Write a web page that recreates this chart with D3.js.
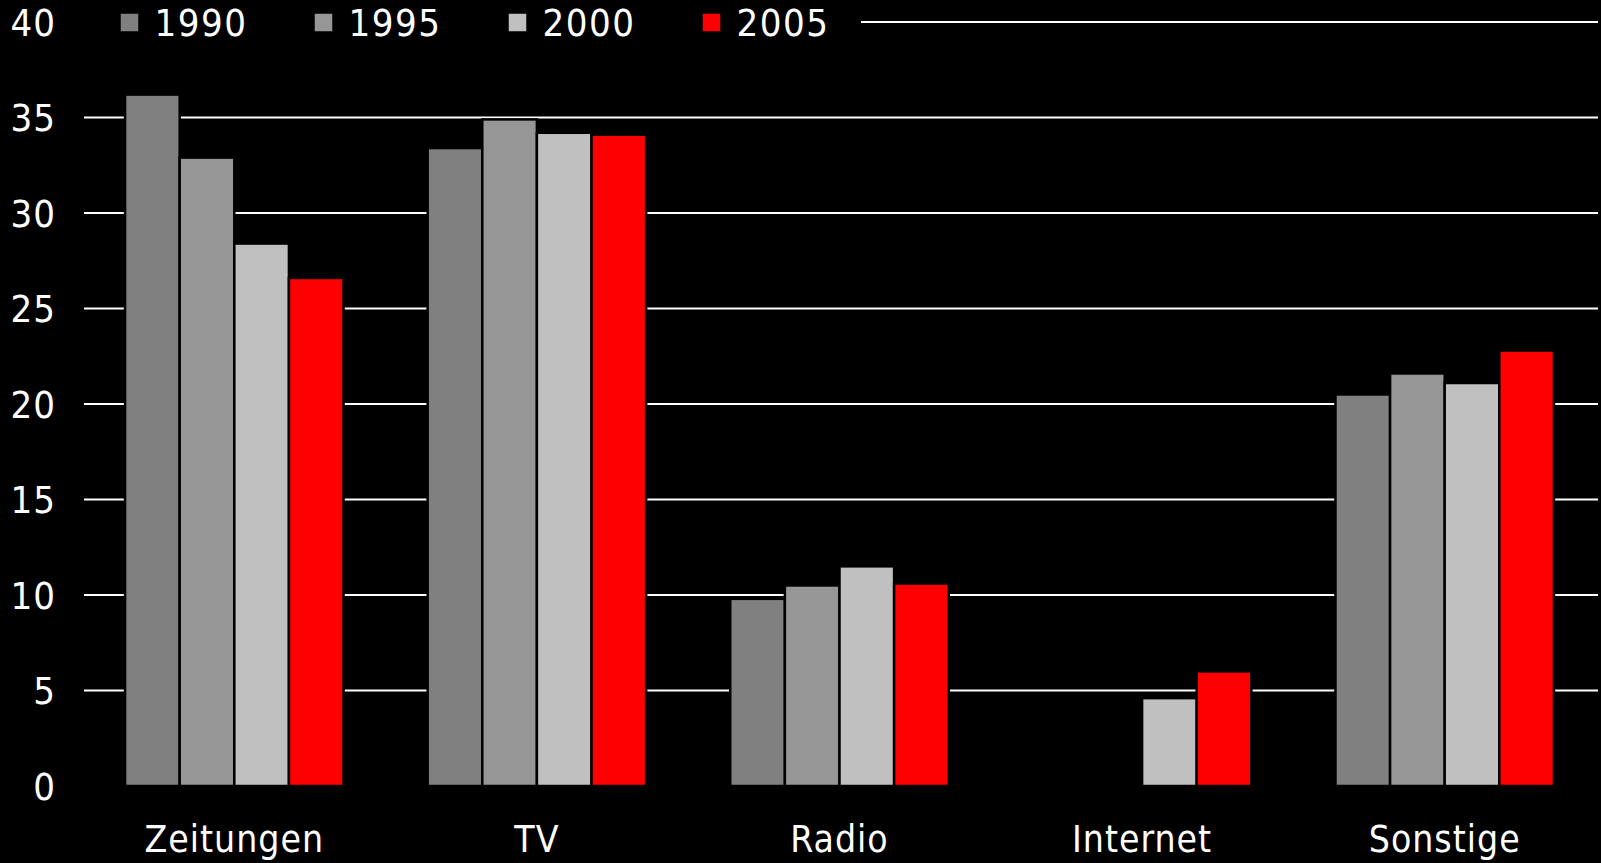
<!DOCTYPE html>
<html><head><meta charset="utf-8">
<script src="https://cdn.jsdelivr.net/npm/d3@7"></script>
<style>
html,body{margin:0;padding:0;background:#000;}
svg{display:block;}
text{font-family:"Liberation Sans Narrow","DejaVu Sans Condensed","Liberation Sans",sans-serif;fill:#fff;}
</style></head>
<body>
<script>
const categories = ["Zeitungen","TV","Radio","Internet","Sonstige"];
const years = ["1990","1995","2000","2005"];
const v1990 = [36.2, 33.4, 9.8, 0, 20.5];
const v1995 = [32.9, 34.9, 10.5, 0, 21.6];
const v2000 = [28.4, 34.2, 11.5, 4.6, 21.1];
const v2005 = [26.6, 34.1, 10.6, 6.0, 22.8];
const yTicks = [0,5,10,15,20,25,30,35,40];
const colors = ["#808080","#969696","#c0c0c0","#ff0000"];

const seriesVals = [v1990, v1995, v2000, v2005];
const W = 1601, H = 863;
const svg = d3.select("body").append("svg").attr("width", W).attr("height", H);
svg.append("rect").attr("width", W).attr("height", H).attr("fill", "#000");

const x0 = d3.scaleBand().domain(categories).range([83, 1596]).paddingInner(0.278).paddingOuter(0.139);
const x1 = d3.scaleBand().domain(years).range([0, x0.bandwidth()]).padding(0);
const y = d3.scaleLinear().domain([0, 40]).range([786, 22]);

// gridlines
svg.append("g").selectAll("line").data(yTicks.filter(t => t > 0)).join("line")
  .attr("x1", 84).attr("x2", 1598)
  .attr("y1", d => y(d)).attr("y2", d => y(d))
  .attr("stroke", "#fff").attr("stroke-width", 2);

// tick labels
svg.append("g").selectAll("text").data(yTicks).join("text")
  .attr("x", 56).attr("y", d => y(d)).attr("dy", "0.36em")
  .attr("text-anchor", "end").style("font-size", "38px").style("letter-spacing", "1px")
  .text(d => d);

// bars
const rows = [];
categories.forEach((c, i) => years.forEach((yr, j) => rows.push({c, yr, v: seriesVals[j][i], col: colors[j]})));
svg.append("g").selectAll("rect").data(rows.filter(d => d.v > 0)).join("rect")
  .attr("x", d => x0(d.c) + x1(d.yr))
  .attr("width", x1.bandwidth())
  .attr("y", d => y(d.v))
  .attr("height", d => y(0) - y(d.v))
  .attr("fill", d => d.col)
  .attr("stroke", "#000").attr("stroke-width", 2.5);

// category labels
svg.append("g").selectAll("text").data(categories).join("text")
  .attr("x", d => x0(d) + x0.bandwidth() / 2).attr("y", 852)
  .attr("text-anchor", "middle").style("font-size", "37px").style("letter-spacing", "1px")
  .text(d => d);

// legend
const lg = svg.append("g");
lg.append("rect").attr("x", 84).attr("y", 0).attr("width", 777).attr("height", 44).attr("fill", "#000");
const legX = d3.scalePoint().domain(years).range([120.5, 702.5]);
const items = lg.selectAll("g.item").data(years).join("g").attr("class", "item")
  .attr("transform", d => `translate(${legX(d)},0)`);
items.append("rect").attr("x", 0).attr("y", 13.5).attr("width", 18).attr("height", 18)
  .attr("fill", (d, i) => colors[i]).attr("stroke", "#000").attr("stroke-width", 0.5);
items.append("text").attr("x", 34).attr("y", 22.5).attr("dy", "0.36em")
  .style("font-size", "38px").style("letter-spacing", "1.5px").text(d => d);
</script>
</body></html>
